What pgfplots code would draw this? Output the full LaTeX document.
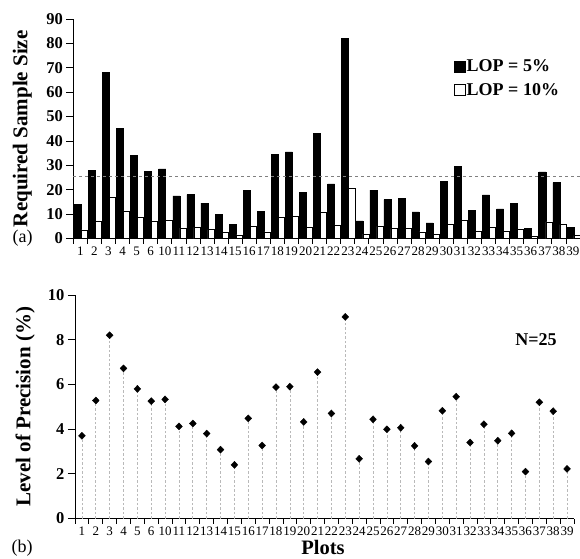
\documentclass[border=0pt]{standalone}
\usepackage{pgfplots}
\pgfplotsset{compat=1.18}
\usepackage{pgfplotstable}
\usepackage{fontspec}
\setmainfont{Liberation Serif}

\pgfplotstableread{
idx n5 n10 lop
1 14 3.5 3.70
2 28 7.0 5.28
3 68 17.0 8.20
4 45 11.3 6.72
5 34 8.5 5.80
6 27.5 6.9 5.25
7 28.5 7.3 5.33
8 17.5 4.3 4.12
9 18 4.6 4.25
10 14.5 3.6 3.80
11 9.8 2.4 3.08
12 5.9 1.5 2.40
13 19.8 5.0 4.48
14 11 2.7 3.27
15 34.5 8.5 5.88
16 35.5 8.9 5.90
17 18.8 4.7 4.32
18 43 10.8 6.55
19 22.4 5.6 4.70
20 82 20.5 9.02
21 7.2 1.8 2.67
22 19.8 5.0 4.44
23 15.9 4.0 3.99
24 16.4 4.1 4.06
25 10.9 2.7 3.25
26 6.4 1.6 2.55
27 23.5 5.9 4.82
28 29.4 7.4 5.45
29 11.4 2.9 3.40
30 17.9 4.5 4.22
31 12.1 3.0 3.48
32 14.4 3.6 3.81
33 4.3 1.1 2.10
34 27.3 6.8 5.20
35 22.9 5.7 4.80
36 4.7 1.2 2.22
}\data

\pgfplotsset{
  common/.style={
    scale only axis,
    axis lines=left,
    axis line style={line width=0.8pt,-},
    every tick/.style={line width=0.8pt,black},
    tick align=outside,
    xmin=0.5, xmax=36.5,
    xtick={1,...,36},
    xticklabels={1,2,3,4,5,6,10,11,12,13,14,15,16,17,18,19,20,21,22,23,24,25,26,27,28,29,30,31,32,33,34,35,36,37,38,39},
    minor xtick={0.5,1.5,...,36.5},
    major x tick style={draw=none},
    minor tick length=5pt,
    major tick length=7pt,
    ytick pos=left, xtick pos=bottom,
    /pgf/number format/assume math mode=true,
    xticklabel style={font=\fontsize{13}{14}\selectfont, inner sep=1pt},
    yticklabel style={font=\fontsize{16.5}{18}\selectfont\bfseries},
    ylabel style={font=\fontsize{21}{24}\selectfont\bfseries, anchor=center},
    clip=false,
  }
}

\begin{document}
\begin{tikzpicture}
\useasboundingbox (0pt,0pt) rectangle (580pt,558pt);

% (a) top
\begin{axis}[common,
  at={(73.3pt,319.5pt)}, anchor=south west,
  width=506.7pt, height=219.5pt,
  ymin=0, ymax=90, ytick={0,10,...,90},
  ylabel={Required Sample Size},
  ylabel style={at={(axis description cs:-0.1005,0.5)}},
  legend style={draw=none, fill=none, at={(axis description cs:0.751,0.815)}, anchor=north west,
    font=\fontsize{18}{20}\selectfont\bfseries, row sep=10pt, inner sep=0pt,
    nodes={inner xsep=1pt, inner ysep=0pt, anchor=west}},
  legend cell align=left,
]
\addplot[ybar, bar width=0.5, bar shift=-0.18, fill=black, draw=black, line width=0.6pt,
  legend image code/.code={\draw[fill=black,draw=black] (0pt,-5.5pt) rectangle (11pt,5.5pt);}]
  table[x=idx,y=n5]{\data};
\addlegendentry{LOP = 5\%}
\addplot[ybar, bar width=0.43, bar shift=0.285, fill=white, draw=black, line width=0.6pt,
  legend image code/.code={\draw[fill=white,draw=black,line width=0.7pt] (0pt,-5.5pt) rectangle (11pt,5.5pt);}]
  table[x=idx,y=n10]{\data};
\addlegendentry{LOP = 10\%}
\addplot[gray, dashed, line width=0.7pt, dash pattern=on 3pt off 3pt, forget plot] coordinates {(0.5,25.5) (36.5,25.5)};
\node[font=\fontsize{18}{20}\selectfont, anchor=center] at (axis description cs:-0.1,0.0) {(a)};
\end{axis}

% (b) bottom
\begin{axis}[common,
  at={(75pt,39.5pt)}, anchor=south west,
  width=499pt, height=223.5pt,
  ymin=0, ymax=10, ytick={0,2,...,10},
  ylabel={Level of Precision (\%)},
  ylabel style={at={(axis description cs:-0.1,0.5)}},
  xlabel={Plots},
  xlabel style={font=\fontsize{20.5}{22}\selectfont\bfseries, inner sep=0pt, at={(axis description cs:0.497,-0.128)}, anchor=center},
]
\addplot[ycomb, gray!55, line width=0.7pt, dash pattern=on 2.5pt off 2pt, no marks] table[x=idx,y=lop]{\data};
\addplot[only marks, mark=diamond*, mark size=3.5pt, mark options={xscale=1.3, black, fill=black}] table[x=idx,y=lop]{\data};
\node[font=\fontsize{18}{20}\selectfont\bfseries, anchor=center] at (axis description cs:0.924,0.799) {N=25};
\node[font=\fontsize{18}{20}\selectfont, anchor=center] at (axis description cs:-0.106,-0.132) {(b)};
\end{axis}
\end{tikzpicture}
\end{document}
